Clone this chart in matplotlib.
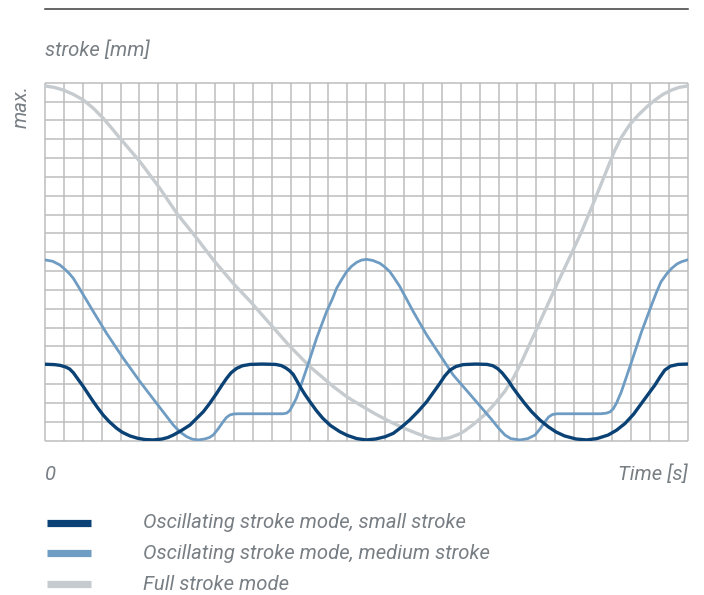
import matplotlib.pyplot as plt

# ------------------------------------------------------------
# data (x in grid cells, y in grid cells)
# ------------------------------------------------------------

small_x = [0, 0.5, 0.8, 1.1, 1.3, 1.5, 1.75, 2.03, 2.3, 2.56, 2.8, 3.08, 3.4, 3.79, 4.1, 4.5,
           4.9, 5.3, 5.73, 6.2, 6.5, 6.79, 7.2, 7.67, 8.0, 8.38, 8.7, 9.08, 9.35, 9.61, 9.85,
           10.14, 10.45, 10.85, 11.5, 12.2, 12.5, 12.75, 12.95, 13.14, 13.3, 13.5, 13.75, 14.02,
           14.35, 14.7, 15.1, 15.6, 16.0, 16.5, 17.0, 17.5, 18.0, 18.43, 18.85, 19.3, 19.75,
           20.2, 20.55, 20.9, 21.15, 21.43, 21.75, 22.13, 22.8, 23.4, 23.7, 23.95, 24.2, 24.5,
           24.75, 25.04, 25.4, 25.75, 26.2, 26.63, 27.05, 27.5, 28.1, 28.66, 29.2, 29.8, 30.25,
           30.7, 31.15, 31.57, 31.95, 32.28, 32.55, 32.8, 33.1, 33.5, 34]
small_y = [4.05, 4.03, 3.99, 3.9, 3.8, 3.6, 3.25, 2.86, 2.45, 2.06, 1.72, 1.35, 1.0, 0.65, 0.43,
           0.24, 0.12, 0.05, 0.03, 0.08, 0.16, 0.29, 0.52, 0.82, 1.15, 1.53, 1.95, 2.5, 2.92,
           3.3, 3.6, 3.83, 3.97, 4.04, 4.06, 4.04, 3.98, 3.85, 3.7, 3.5, 3.22, 2.86, 2.45, 2.06,
           1.6, 1.18, 0.8, 0.47, 0.27, 0.1, 0.03, 0.08, 0.2, 0.38, 0.7, 1.09, 1.55, 2.06, 2.55,
           3.04, 3.42, 3.74, 3.93, 4.03, 4.06, 4.04, 3.97, 3.82, 3.58, 3.2, 2.82, 2.42, 1.95,
           1.53, 1.08, 0.73, 0.45, 0.24, 0.08, 0.03, 0.1, 0.29, 0.55, 0.91, 1.4, 1.98, 2.5,
           2.95, 3.38, 3.74, 3.95, 4.04, 4.06]

medium_x = [0, 0.4, 0.79, 1.1, 1.3, 1.5, 1.75, 2.03, 2.56, 3.26, 4.14, 5.03, 5.9, 6.79, 7.15,
            7.5, 7.8, 8.11, 8.45, 8.7, 8.9, 9.15, 9.43, 9.6, 9.79, 10.0, 10.3, 11.5, 12.6, 12.8,
            12.96, 13.1, 13.3, 13.55, 13.85, 14.37, 14.9, 15.2, 15.43, 15.7, 15.96, 16.22,
            16.49, 16.75, 17.02, 17.35, 17.72, 18.0, 18.25, 18.5, 18.78, 19.49, 20.2, 20.9,
            21.6, 22.3, 22.93, 23.63, 24.0, 24.34, 24.65, 25.13, 25.55, 25.93, 26.2, 26.46,
            26.65, 26.85, 27.1, 27.5, 29.4, 29.7, 29.9, 30.07, 30.25, 30.5, 31.04, 31.57, 32.1,
            32.35, 32.6, 32.9, 33.16, 33.45, 33.7, 34]
medium_y = [9.59, 9.52, 9.32, 9.05, 8.85, 8.61, 8.2, 7.73, 6.84, 5.69, 4.37, 3.12, 1.98, 0.82,
            0.45, 0.2, 0.07, 0.03, 0.08, 0.16, 0.29, 0.6, 1.0, 1.22, 1.36, 1.41, 1.42, 1.42,
            1.42, 1.46, 1.6, 1.85, 2.24, 2.95, 3.83, 5.43, 6.84, 7.5, 8.08, 8.55, 8.96, 9.25,
            9.46, 9.58, 9.62, 9.56, 9.41, 9.2, 8.96, 8.6, 8.17, 6.84, 5.6, 4.54, 3.48, 2.67,
            1.94, 1.12, 0.66, 0.29, 0.1, 0.03, 0.1, 0.29, 0.62, 1.0, 1.25, 1.38, 1.42, 1.42,
            1.42, 1.45, 1.52, 1.68, 2.0, 2.59, 4.18, 5.78, 7.2, 7.85, 8.43, 8.85, 9.14, 9.38,
            9.5, 9.59]

full_x = [0, 0.5, 0.97, 1.5, 2.03, 2.55, 3.08, 3.5, 3.97, 5.03, 6.08, 6.97, 8.03, 8.9, 10.0,
          10.85, 11.9, 12.96, 14.02, 15.26, 16.0, 16.67, 17.5, 18.25, 19.0, 19.67, 20.3, 20.8,
          21.4, 21.96, 22.22, 22.7, 23.28, 23.8, 24.34, 24.8, 25.22, 25.65, 26.1, 26.55, 26.98,
          27.4, 27.8, 28.4, 29.1, 29.8, 30.15, 30.5, 30.95, 31.4, 31.85, 32.28, 32.7, 33.16,
          33.55, 34]
full_y = [18.83, 18.75, 18.61, 18.38, 18.08, 17.65, 17.11, 16.62, 16.05, 14.8, 13.39, 12.07,
          10.74, 9.6, 8.3, 7.4, 6.2, 5.0, 3.92, 2.86, 2.3, 1.89, 1.4, 1.0, 0.65, 0.38, 0.15,
          0.06, 0.14, 0.36, 0.52, 0.88, 1.38, 1.95, 2.62, 3.35, 4.18, 5.12, 6.1, 7.1, 8.05, 8.95,
          9.8, 11.1, 12.8, 14.54, 15.4, 16.1, 16.78, 17.29, 17.72, 18.08, 18.38, 18.61,
          18.75, 18.83]

labels = ["Oscillating stroke mode, small stroke",
          "Oscillating stroke mode, medium stroke",
          "Full stroke mode"]
colors = ["#0b4275", "#6f9cc2", "#c6cbcf"]

n_cols = 34
n_rows = 19

# ------------------------------------------------------------
# figure
# ------------------------------------------------------------

W, H = 704, 595
fig = plt.figure(figsize=(W / 100, H / 100), dpi=100)

left, right, top, bottom = 45, 687.5, 82.7, 440.5
ax = fig.add_axes([left / W, 1 - bottom / H, (right - left) / W, (bottom - top) / H])
ax.set_xlim(0, n_cols)
ax.set_ylim(0, n_rows)
ax.axis("off")

grid_col = "#bdbdbd"
ax.vlines(range(n_cols + 1), 0, n_rows, color=grid_col, lw=1.1, clip_on=False, zorder=1)
ax.hlines(range(n_rows + 1), 0, n_cols, color=grid_col, lw=1.1, clip_on=False, zorder=1)

ax.plot(full_x, full_y, color=colors[2], lw=2.4, solid_joinstyle="round", zorder=3)
ax.plot(medium_x, medium_y, color=colors[1], lw=2.0, solid_joinstyle="round", zorder=4)
ax.plot(small_x, small_y, color=colors[0], lw=2.4, solid_joinstyle="round", zorder=5)

# top rule
fig.add_artist(plt.Line2D([45 / W, 688 / W], [1 - 9 / H, 1 - 9 / H], color="#3c3c3c", lw=1.1))

txt_col = "#787f84"
font = dict(family="Roboto", style="italic", color=txt_col)
fs = 14.6

fig.text(45 / W, 1 - 50 / H, "stroke [mm]", fontsize=fs, va="center", ha="left", **font)
fig.text(21 / W, 1 - 85 / H, "max.", fontsize=fs, rotation=90, va="top", ha="center", **font)
fig.text(45 / W, 1 - 474 / H, "0", fontsize=fs, va="center", ha="left", **font)
fig.text(688 / W, 1 - 474 / H, "Time [s]", fontsize=fs, va="center", ha="right", **font)

# legend
leg_y = [522.7, 553.3, 584]
for yy, lab, c in zip(leg_y, labels, colors):
    fig.add_artist(plt.Line2D([47 / W, 91 / W], [1 - yy / H, 1 - yy / H], color=c, lw=5.2,
                              solid_capstyle="butt"))
    fig.text(143 / W, 1 - yy / H, lab, fontsize=fs, va="center", ha="left", **font)

fig.savefig("out.png", dpi=100)
